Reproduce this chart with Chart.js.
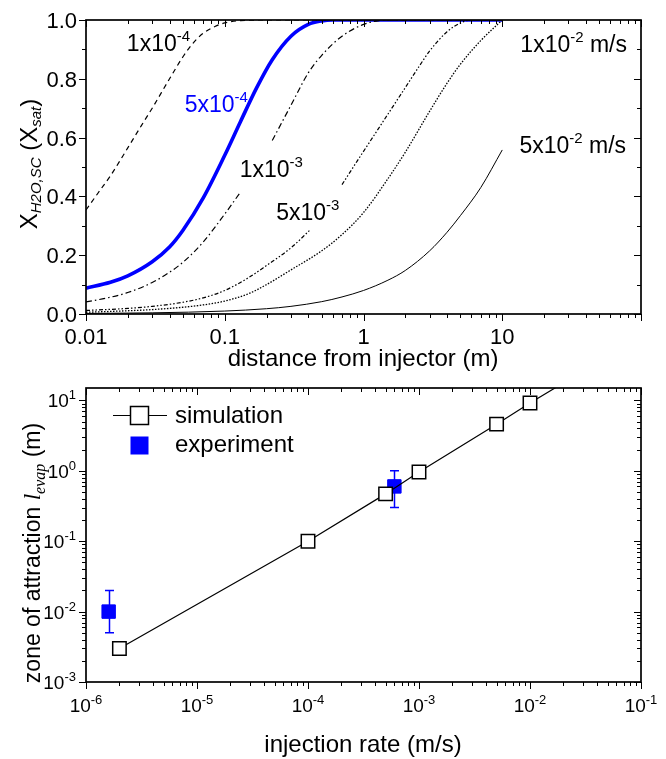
<!DOCTYPE html>
<html>
<head>
<meta charset="utf-8">
<script src="https://cdn.jsdelivr.net/npm/chart.js@4.4.1/dist/chart.umd.min.js"></script>
<style>
  body { margin: 0; background: #fff; }
  canvas { position: absolute; left: 0; }
  #evapChart { top: 0; }
  #zoneChart { top: 372px; }
</style>
</head>
<body>
<canvas id="evapChart" width="666" height="372"></canvas>
<canvas id="zoneChart" width="666" height="387"></canvas>
<script>
const SANS = '"Liberation Sans", Arial, sans-serif'
const SERIF = '"Liberation Serif", "Times New Roman", serif'

// upper panel: water fraction vs distance, one curve per injection rate
const dist1e4 = [0.01, 0.0125, 0.015, 0.02, 0.025, 0.03, 0.04, 0.05, 0.06, 0.07, 0.085, 0.1, 0.13, 0.2, 1, 10]
const frac1e4 = [0.354, 0.418, 0.47, 0.565, 0.64, 0.7, 0.8, 0.875, 0.925, 0.955, 0.978, 0.99, 0.998, 1, 1, 1]

const dist5e4 = [0.01, 0.015, 0.02, 0.03, 0.04, 0.05, 0.07, 0.1, 0.13, 0.17, 0.22, 0.3, 0.4, 0.5, 0.6, 1, 10]
const frac5e4 = [0.088, 0.108, 0.13, 0.178, 0.228, 0.285, 0.395, 0.54, 0.655, 0.77, 0.865, 0.945, 0.985, 0.997, 1, 1, 1]

const dist1e3 = [0.01, 0.015, 0.02, 0.03, 0.04, 0.05, 0.07, 0.1, 0.13, 0.17, 0.22, 0.3, 0.4, 0.5, 0.7, 1, 1.3, 1.6, 10]
const frac1e3 = [0.041, 0.057, 0.073, 0.107, 0.142, 0.176, 0.245, 0.34, 0.415, null, 0.59, 0.71, 0.82, 0.88, 0.945, 0.985, 0.998, 1, 1]

const dist5e3 = [0.01, 0.02, 0.03, 0.05, 0.07, 0.1, 0.15, 0.2, 0.3, 0.41, 0.55, 0.7, 0.9, 1.2, 1.6, 2, 2.5, 3, 4, 5, 6, 10]
const frac5e3 = [0.012, 0.019, 0.026, 0.04, 0.055, 0.08, 0.125, 0.165, 0.225, 0.285, null, 0.44, 0.52, 0.61, 0.7, 0.77, 0.84, 0.895, 0.96, 0.99, 1, 1]

const dist1e2 = [0.01, 0.02, 0.03, 0.05, 0.07, 0.1, 0.15, 0.2, 0.3, 0.5, 0.7, 1, 1.5, 2, 3, 4, 5, 7, 9, 10]
const frac1e2 = [0.006, 0.011, 0.015, 0.023, 0.031, 0.044, 0.07, 0.1, 0.15, 0.215, 0.27, 0.345, 0.46, 0.55, 0.69, 0.785, 0.85, 0.93, 0.98, 1]

const dist5e2 = [0.01, 0.03, 0.1, 0.2, 0.3, 0.5, 0.7, 1, 1.5, 2, 3, 4, 5, 7, 10]
const frac5e2 = [0.002, 0.004, 0.01, 0.018, 0.026, 0.042, 0.058, 0.08, 0.115, 0.148, 0.215, 0.278, 0.335, 0.43, 0.558]

const distTicks = [0.01, 0.1, 1, 10]
const distTickLabels = ['0.01', '0.1', '1', '10']
const fracTicks = [0, 0.2, 0.4, 0.6, 0.8, 1]
const fracTickLabels = ['0.0', '0.2', '0.4', '0.6', '0.8', '1.0']

// lower panel: zone of attraction vs injection rate
const simRate = [2e-6, 1e-4, 5e-4, 1e-3, 5e-3, 1e-2, 5e-2]
const simLevap = [0.003, 0.1, 0.47, 0.96, 4.6, 9.2, 42]
const expRate = [1.6e-6, 6e-4]
const expLevap = [0.01, 0.6]
const expLow = [0.005, 0.3]
const expHigh = [0.02, 1.0]

const rateExponents = [-6, -5, -4, -3, -2, -1]
const levapExponents = [-3, -2, -1, 0, 1]

const curves = [
  { dist: dist5e2, frac: frac5e2, color: '#000', width: 1, dash: [] },
  { dist: dist1e2, frac: frac1e2, color: '#000', width: 1.3, dash: [1.5, 1.5] },
  { dist: dist5e3, frac: frac5e3, color: '#000', width: 1.2, dash: [4, 2, 1.5, 2, 1.5, 2] },
  { dist: dist1e3, frac: frac1e3, color: '#000', width: 1.2, dash: [6, 3, 1.5, 3] },
  { dist: dist1e4, frac: frac1e4, color: '#000', width: 1.2, dash: [5, 4] },
  { dist: dist5e4, frac: frac5e4, color: '#0000ff', width: 3.6, dash: [] }
]

// curve labels, anchored at the text baseline in data units
const curveNotes = [
  { base: '1x10', sup: '-4', tail: '', x: 0.0197, y: 0.895, color: '#000' },
  { base: '5x10', sup: '-4', tail: '', x: 0.0514, y: 0.687, color: '#0000ff' },
  { base: '1x10', sup: '-3', tail: '', x: 0.128, y: 0.466, color: '#000' },
  { base: '5x10', sup: '-3', tail: '', x: 0.235, y: 0.32, color: '#000' },
  { base: '1x10', sup: '-2', tail: ' m/s', x: 13.5, y: 0.891, color: '#000' },
  { base: '5x10', sup: '-2', tail: ' m/s', x: 13.3, y: 0.548, color: '#000' }
]

function logMinor (min, max) {
  const out = []
  for (let e = Math.floor(Math.log10(min)); e <= Math.ceil(Math.log10(max)); e++) {
    for (let k = 2; k <= 9; k++) {
      const v = k * Math.pow(10, e)
      if (v > min * 1.0001 && v < max * 0.9999) out.push(v)
    }
  }
  return out
}

function runText (ctx, parts, x, y, align) {
  let w = 0
  parts.forEach(p => { ctx.font = p.font; p.w = ctx.measureText(p.t).width; w += p.w })
  let cx = align === 'center' ? x - w / 2 : align === 'right' ? x - w : x
  ctx.textAlign = 'left'
  ctx.textBaseline = 'alphabetic'
  parts.forEach(p => { ctx.font = p.font; ctx.fillText(p.t, cx, y + (p.dy || 0)); cx += p.w })
}

function drawFrame (chart, xMajor, xMinor, yMajor, yMinor) {
  const { ctx, chartArea: a } = chart
  const sx = chart.scales.x
  const sy = chart.scales.y
  ctx.save()
  ctx.strokeStyle = '#000'
  ctx.lineWidth = 1
  ctx.beginPath()
  const xt = (vals, len) => vals.forEach(v => {
    const p = Math.round(sx.getPixelForValue(v)) + 0.5
    ctx.moveTo(p, a.bottom); ctx.lineTo(p, a.bottom + len)
    ctx.moveTo(p, a.top); ctx.lineTo(p, a.top + len)
  })
  const yt = (vals, len) => vals.forEach(v => {
    const p = Math.round(sy.getPixelForValue(v)) + 0.5
    ctx.moveTo(a.left, p); ctx.lineTo(a.left - len, p)
    ctx.moveTo(a.right, p); ctx.lineTo(a.right - len, p)
  })
  xt(xMajor, 7); xt(xMinor, 4)
  yt(yMajor, 7); yt(yMinor, 4)
  ctx.stroke()
  ctx.lineWidth = 1.7
  ctx.strokeRect(a.left, a.top, a.right - a.left, a.bottom - a.top)
  ctx.restore()
}

const evapDecor = {
  id: 'evapDecor',
  afterDatasetsDraw (chart) {
    const { ctx } = chart
    const sx = chart.scales.x
    const sy = chart.scales.y
    drawFrame(chart, distTicks.concat([100]), logMinor(0.01, 100), fracTicks, [0.1, 0.3, 0.5, 0.7, 0.9])
    ctx.save()
    ctx.fillStyle = '#000'
    ctx.font = '22px ' + SANS
    ctx.textBaseline = 'alphabetic'
    ctx.textAlign = 'center'
    distTicks.forEach((v, i) => ctx.fillText(distTickLabels[i], sx.getPixelForValue(v), 344))
    ctx.textAlign = 'right'
    fracTicks.forEach((v, i) => ctx.fillText(fracTickLabels[i], 77, sy.getPixelForValue(v) + 8))
    curveNotes.forEach(n => {
      ctx.fillStyle = n.color
      runText(ctx, [
        { t: n.base, font: '23px ' + SANS },
        { t: n.sup, font: '15px ' + SANS, dy: -10 },
        { t: n.tail, font: '23px ' + SANS }
      ], sx.getPixelForValue(n.x), sy.getPixelForValue(n.y), 'left')
    })
    ctx.fillStyle = '#000'
    runText(ctx, [{ t: 'distance from injector (m)', font: '24px ' + SANS }], 363, 366, 'center')
    ctx.translate(37, 164)
    ctx.rotate(-Math.PI / 2)
    runText(ctx, [
      { t: 'X', font: '24px ' + SANS },
      { t: 'H2O,SC', font: 'italic 15px ' + SANS, dy: 4 },
      { t: ' (X', font: '24px ' + SANS },
      { t: 'sat', font: 'italic 15px ' + SANS, dy: 4 },
      { t: ')', font: '24px ' + SANS }
    ], 0, 0, 'center')
    ctx.restore()
  }
}

const zoneDecor = {
  id: 'zoneDecor',
  beforeDatasetsDraw (chart) {
    const { ctx } = chart
    const sx = chart.scales.x
    const sy = chart.scales.y
    ctx.save()
    ctx.strokeStyle = '#0000ff'
    ctx.lineWidth = 1.5
    ctx.beginPath()
    expRate.forEach((r, i) => {
      const px = Math.round(sx.getPixelForValue(r)) + 0.5
      const lo = sy.getPixelForValue(expLow[i])
      const hi = sy.getPixelForValue(expHigh[i])
      ctx.moveTo(px, lo); ctx.lineTo(px, hi)
      ctx.moveTo(px - 4.5, lo); ctx.lineTo(px + 4.5, lo)
      ctx.moveTo(px - 4.5, hi); ctx.lineTo(px + 4.5, hi)
    })
    ctx.stroke()
    ctx.restore()
  },
  afterDatasetsDraw (chart) {
    const { ctx } = chart
    const sx = chart.scales.x
    const sy = chart.scales.y
    const rateMajor = rateExponents.map(e => Math.pow(10, e))
    const levapMajor = levapExponents.map(e => Math.pow(10, e))
    drawFrame(chart, rateMajor, logMinor(1e-6, 1e-1), levapMajor, logMinor(1e-3, sy.max))
    ctx.save()
    ctx.fillStyle = '#000'
    rateExponents.forEach(e => {
      runText(ctx, [
        { t: '10', font: '19px ' + SANS },
        { t: String(e), font: '13px ' + SANS, dy: -8 }
      ], sx.getPixelForValue(Math.pow(10, e)), 340, 'center')
    })
    levapExponents.forEach(e => {
      runText(ctx, [
        { t: '10', font: '19px ' + SANS },
        { t: String(e), font: '13px ' + SANS, dy: -8 }
      ], 76, sy.getPixelForValue(Math.pow(10, e)) + 7, 'right')
    })
    runText(ctx, [{ t: 'injection rate (m/s)', font: '24px ' + SANS }], 363, 380, 'center')

    // legend
    ctx.strokeStyle = '#000'
    ctx.lineWidth = 1.2
    ctx.beginPath(); ctx.moveTo(113, 43.5); ctx.lineTo(167, 43.5); ctx.stroke()
    ctx.fillStyle = '#fff'
    ctx.lineWidth = 1.5
    ctx.fillRect(130.5, 34.5, 18, 18); ctx.strokeRect(130.5, 34.5, 18, 18)
    ctx.fillStyle = '#0000ff'
    ctx.fillRect(130.5, 64.5, 18, 18)
    ctx.fillStyle = '#000'
    runText(ctx, [{ t: 'simulation', font: '24px ' + SANS }], 175, 51, 'left')
    runText(ctx, [{ t: 'experiment', font: '24px ' + SANS }], 175, 80, 'left')

    ctx.translate(40, 181)
    ctx.rotate(-Math.PI / 2)
    runText(ctx, [
      { t: 'zone of attraction ', font: '23px ' + SANS },
      { t: 'l', font: 'italic 23px ' + SERIF },
      { t: 'evap', font: 'italic 16px ' + SERIF, dy: 5 },
      { t: ' (m)', font: '23px ' + SANS }
    ], 0, 0, 'center')
    ctx.restore()
  }
}

const hidden = { ticks: { display: false }, grid: { display: false }, border: { display: false } }

new Chart(document.getElementById('evapChart'), {
  type: 'line',
  data: {
    datasets: curves.map(c => ({
      data: c.dist.map((d, i) => ({ x: d, y: c.frac[i] })),
      borderColor: c.color,
      borderWidth: c.width,
      borderDash: c.dash,
      pointRadius: 0,
      fill: false,
      cubicInterpolationMode: 'monotone'
    }))
  },
  options: {
    responsive: false,
    animation: false,
    devicePixelRatio: 1,
    layout: { padding: { top: 20, right: 25, left: 0, bottom: 0 } },
    plugins: { legend: { display: false }, tooltip: { enabled: false } },
    scales: {
      x: { type: 'logarithmic', min: 0.01, max: 100, ...hidden, afterFit: s => { s.height = 58 } },
      y: { type: 'linear', min: 0, max: 1, ...hidden, afterFit: s => { s.width = 86 } }
    }
  },
  plugins: [evapDecor]
})

new Chart(document.getElementById('zoneChart'), {
  type: 'line',
  data: {
    datasets: [
      {
        label: 'simulation',
        data: simRate.map((r, i) => ({ x: r, y: simLevap[i] })),
        borderColor: '#000',
        borderWidth: 1.2,
        pointStyle: 'rect',
        pointRadius: 9.5,
        pointBackgroundColor: '#fff',
        pointBorderColor: '#000',
        pointBorderWidth: 1.5,
        order: 0
      },
      {
        label: 'experiment',
        data: expRate.map((r, i) => ({ x: r, y: expLevap[i] })),
        showLine: false,
        pointStyle: 'rect',
        pointRadius: 9.5,
        pointBackgroundColor: '#0000ff',
        pointBorderColor: '#0000ff',
        pointBorderWidth: 1,
        order: 1
      }
    ]
  },
  options: {
    responsive: false,
    animation: false,
    devicePixelRatio: 1,
    layout: { padding: { top: 16, right: 25, left: 0, bottom: 0 } },
    plugins: { legend: { display: false }, tooltip: { enabled: false } },
    scales: {
      x: { type: 'logarithmic', min: 1e-6, max: 1e-1, ...hidden, afterFit: s => { s.height = 77 } },
      y: { type: 'logarithmic', min: 1e-3, max: 15, ...hidden, afterFit: s => { s.width = 86 } }
    }
  },
  plugins: [zoneDecor]
})
</script>
</body>
</html>
